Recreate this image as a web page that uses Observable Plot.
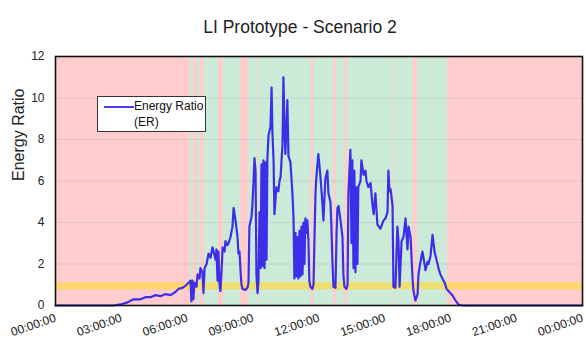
<!DOCTYPE html>
<html>
<head>
<meta charset="utf-8">
<script src="https://cdn.jsdelivr.net/npm/d3@7"></script>
<script src="https://cdn.jsdelivr.net/npm/@observablehq/plot@0.6"></script>
<style>
  body { margin: 0; background: #fff; }
  #wrap { position: relative; width: 586px; height: 340px; font-family: "Liberation Sans", Arial, sans-serif; }
  #title { position: absolute; left: 0; top: 17px; width: 600px; text-align: center; font-size: 17.5px; color: #222; }
  #legend { position: absolute; left: 97px; top: 96px; width: 107px; height: 34px; background: #fff; border: 1px solid #333; font-size: 12px; color: #111; }
  #legend .ln { position: absolute; left: 6px; top: 9px; width: 30px; height: 2px; background: #4a3cf0; }
  #legend .t1 { position: absolute; left: 36px; top: 2px; }
  #legend .t2 { position: absolute; left: 36px; top: 18px; }
  #chart { position: absolute; left: 0; top: 0; }
</style>
</head>
<body>
<div id="wrap">
  <div id="chart"></div>
  <div id="title">LI Prototype - Scenario 2</div>
  <div id="legend"><div class="ln"></div><div class="t1">Energy Ratio</div><div class="t2">(ER)</div></div>
</div>
<script>
// Time of day (decimal hours) and Energy Ratio values
const hours = [0, 2.64, 2.96, 3.28, 3.55, 3.87, 4.10, 4.33, 4.55, 4.78, 5.01, 5.24, 5.46, 5.60, 5.78, 5.92, 6.06, 6.15, 6.19, 6.24, 6.28, 6.33, 6.42, 6.47, 6.56, 6.60, 6.69, 6.74, 6.79, 6.88, 6.97, 7.06, 7.15, 7.20, 7.29, 7.33, 7.38, 7.42, 7.47, 7.51, 7.56, 7.61, 7.70, 7.74, 7.83, 7.88, 7.97, 8.06, 8.11, 8.20, 8.29, 8.33, 8.38, 8.43, 8.47, 8.52, 8.65, 8.74, 8.79, 8.83, 8.93, 8.97, 9.02, 9.06, 9.11, 9.15, 9.20, 9.24, 9.29, 9.34, 9.38, 9.43, 9.47, 9.52, 9.56, 9.61, 9.65, 9.70, 9.79, 9.84, 9.88, 9.93, 9.97, 10.06, 10.15, 10.20, 10.25, 10.34, 10.38, 10.43, 10.47, 10.56, 10.61, 10.70, 10.79, 10.84, 10.88, 10.93, 10.97, 11.02, 11.06, 11.11, 11.16, 11.20, 11.25, 11.29, 11.34, 11.38, 11.43, 11.47, 11.52, 11.56, 11.61, 11.70, 11.75, 11.79, 11.84, 11.88, 11.97, 12.06, 12.15, 12.20, 12.29, 12.38, 12.43, 12.52, 12.56, 12.61, 12.66, 12.75, 12.80, 12.84, 12.89, 12.98, 13.07, 13.11, 13.16, 13.25, 13.30, 13.34, 13.43, 13.48, 13.52, 13.57, 13.61, 13.66, 13.70, 13.75, 13.79, 13.89, 13.93, 14.03, 14.12, 14.16, 14.25, 14.35, 14.44, 14.49, 14.57, 14.66, 14.80, 14.94, 15.03, 15.12, 15.16, 15.21, 15.26, 15.35, 15.39, 15.48, 15.57, 15.62, 15.67, 15.76, 15.85, 15.94, 16.03, 16.08, 16.17, 16.26, 16.30, 16.39, 16.49, 16.53, 16.62, 16.71, 16.76, 16.85, 16.94, 16.99, 17.08, 17.17, 17.26, 17.40, 17.44, 17.53, 17.62, 17.72, 17.81, 17.90, 18.08, 18.22, 18.35, 18.53, 24];
const energyRatio = [0, 0, 0.05, 0.15, 0.3, 0.3, 0.4, 0.4, 0.5, 0.45, 0.55, 0.5, 0.65, 0.8, 0.85, 0.95, 1.1, 1.2, 0.2, 1.2, 0.3, 1.1, 0.9, 1.5, 1.3, 1.8, 1.6, 0.6, 1.8, 2.0, 2.5, 2.3, 2.8, 2.6, 2.2, 2.7, 1.2, 2.6, 1.0, 0.7, 1.6, 2.8, 2.6, 3.1, 2.9, 3.0, 3.3, 3.8, 4.7, 4.1, 3.3, 2.5, 2.6, 1.6, 1.0, 0.8, 0.75, 0.85, 1.1, 3.8, 4.3, 4.9, 6.0, 7.1, 6.5, 1.5, 0.6, 1.1, 4.5, 1.8, 6.8, 1.9, 7.0, 1.8, 6.9, 2.2, 7.1, 8.2, 8.6, 10.5, 8.3, 7.0, 4.4, 5.7, 5.5, 6.0, 6.2, 7.8, 11.0, 8.5, 7.3, 9.9, 7.2, 6.9, 5.4, 4.2, 1.3, 3.5, 1.4, 3.3, 1.3, 3.6, 1.4, 3.8, 1.5, 4.0, 2.0, 4.2, 3.5, 4.1, 3.1, 1.2, 0.9, 0.8, 1.0, 3.0, 5.4, 6.2, 7.3, 6.3, 5.0, 4.1, 6.1, 6.5, 5.4, 5.0, 4.0, 2.2, 0.9, 0.85, 3.5, 4.7, 4.8, 4.1, 3.3, 1.5, 0.9, 0.8, 1.0, 5.4, 7.5, 3.0, 7.0, 1.8, 6.5, 1.6, 5.7, 2.0, 5.7, 6.0, 7.0, 6.3, 6.5, 6.0, 5.7, 5.9, 4.8, 4.4, 5.4, 3.9, 3.7, 4.1, 4.2, 4.5, 6.5, 5.5, 5.6, 4.8, 0.9, 0.85, 3.8, 3.1, 0.9, 3.1, 3.3, 4.2, 2.7, 3.8, 3.3, 1.3, 0.72, 0.24, 0.55, 1.5, 2.1, 2.6, 2.3, 1.7, 2.1, 2.0, 2.4, 3.4, 2.6, 2.0, 1.8, 1.5, 1.3, 1.1, 0.8, 0.7, 0.48, 0.24, 0.05, 0, 0];

// Green (ER above threshold) periods, decimal hours
const greenStart = [6.15, 6.47, 6.79, 7.65, 8.79, 9.22, 11.78, 12.80, 13.30, 15.46, 16.49];
const greenEnd   = [6.28, 6.60, 7.42, 8.43, 9.18, 11.64, 12.66, 13.16, 15.42, 16.26, 17.85];

// Threshold band around ER = 1
const thresholdBand = [0.75, 1.1];

const xTicks = [0, 3, 6, 9, 12, 15, 18, 21, 24];
const xTickLabels = ["00:00:00", "03:00:00", "06:00:00", "09:00:00", "12:00:00", "15:00:00", "18:00:00", "21:00:00", "00:00:00"];
const yTicks = [0, 2, 4, 6, 8, 10, 12];

const series = hours.map((h, i) => ({h, v: energyRatio[i]}));
const greens = greenStart.map((s, i) => ({s, e: greenEnd[i]}));

const pink = "#ffcdcd";
const green = "#cbead8";

const chart = Plot.plot({
  width: 586,
  height: 340,
  marginTop: 56,
  marginBottom: 35,
  marginLeft: 55,
  marginRight: 4,
  style: {fontFamily: "Liberation Sans, Arial, sans-serif", fontSize: "12px", color: "#222", background: "transparent"},
  x: {domain: [0, 24]},
  y: {domain: [0, 12]},
  marks: [
    Plot.frame({fill: pink}),
    Plot.rect(greens, {x1: "s", x2: "e", fill: green}),
    Plot.gridY(yTicks, {stroke: "#888", strokeOpacity: 0.18}),
    Plot.rect([thresholdBand], {y1: d => d[0], y2: d => d[1], fill: "#ffd94a", fillOpacity: 0.72}),
    Plot.line(series, {x: "h", y: "v", stroke: "#3d2fe8", strokeWidth: 2.2, strokeLinejoin: "round", curve: "linear"}),
    Plot.frame({stroke: "#111", strokeWidth: 1.6}),
    Plot.axisY({ticks: yTicks, tickSize: 0, tickPadding: 11, label: null, fontSize: 12}),
    Plot.axisX({ticks: xTicks, tickSize: 0, tickPadding: 12, tickRotate: -19, label: null, fontSize: 12,
      tickFormat: d => xTickLabels[xTicks.indexOf(d)]}),
    Plot.text(["Energy Ratio"], {frameAnchor: "left", rotate: -90, dx: -37, fontSize: 16, fill: "#222"})
  ]
});
document.getElementById("chart").appendChild(chart);
</script>
</body>
</html>
